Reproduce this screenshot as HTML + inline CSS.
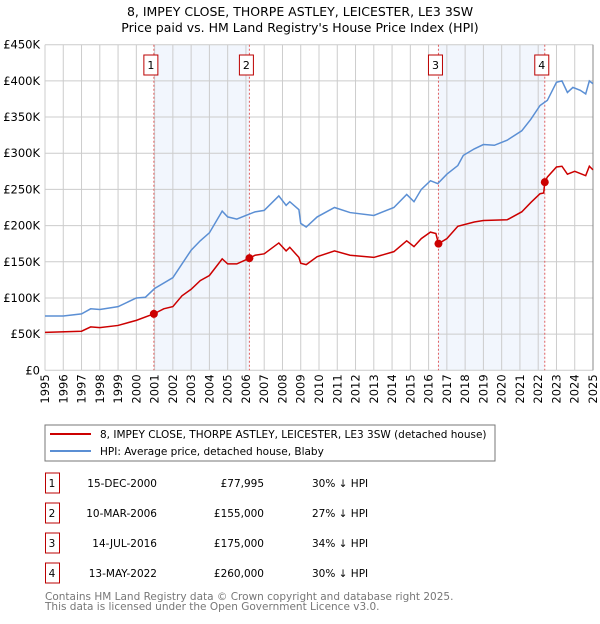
<!DOCTYPE html>
<html><head><meta charset="utf-8"><style>
body{margin:0;background:#fff;font-family:"DejaVu Sans","Liberation Sans",sans-serif;}
svg text{font-family:"DejaVu Sans","Liberation Sans",sans-serif;}
</style></head><body>
<svg id="chart" width="600" height="620" viewBox="0 0 600 620" xmlns="http://www.w3.org/2000/svg">
<text x="300" y="16" text-anchor="middle" font-size="12.5" fill="#000">8, IMPEY CLOSE, THORPE ASTLEY, LEICESTER, LE3 3SW</text>
<text x="300" y="32" text-anchor="middle" font-size="12.5" fill="#000">Price paid vs. HM Land Registry's House Price Index (HPI)</text>
<g id="plot"></g>
<g>
<rect x="45" y="425" width="450" height="36" fill="#fff" stroke="#777"/>
<line x1="50" y1="434" x2="91" y2="434" stroke="#cc0000" stroke-width="2"/>
<text x="100" y="438" font-size="10.5">8, IMPEY CLOSE, THORPE ASTLEY, LEICESTER, LE3 3SW (detached house)</text>
<line x1="50" y1="451" x2="91" y2="451" stroke="#5b8fd4" stroke-width="2"/>
<text x="100" y="455" font-size="10.5">HPI: Average price, detached house, Blaby</text>
</g>
<g id="table"></g>
<text x="45" y="600" font-size="10.5" fill="#777">Contains HM Land Registry data © Crown copyright and database right 2025.</text>
<text x="45" y="610" font-size="10.5" fill="#777">This data is licensed under the Open Government Licence v3.0.</text>
</svg>
<script>
const hpiYears=[1995,1996,1997,1997.5,1998,1999,2000,2000.5,2001,2002,2003,2003.5,2004,2004.7,2005,2005.5,2006,2006.5,2007,2007.8,2008.2,2008.4,2008.9,2009,2009.3,2009.9,2010.85,2011.7,2013,2014.1,2014.8,2015.2,2015.6,2016.1,2016.5,2017,2017.6,2017.9,2018.5,2019,2019.6,2020.3,2021.1,2021.6,2022.1,2022.5,2023,2023.3,2023.6,2023.9,2024.3,2024.6,2024.8,2025];
const hpiValues=[75,75,78,85,84,88,100,101,113,128,166,179,190,220,212,209,214,219,221,241,228,233,222,203,198,212,225,218,214,225,243,233,250,262,258,271,283,297,306,312,311,318,331,347,366,373,398,400,384,391,387,382,400,396];
const propYears=[1995,1997,1997.5,1998,1999,2000,2000.96,2001.5,2002,2002.5,2003,2003.5,2004,2004.7,2005,2005.5,2006.19,2006.5,2007,2007.8,2008.2,2008.4,2008.9,2009,2009.3,2009.9,2010.85,2011.7,2013,2014.1,2014.8,2015.2,2015.6,2016.1,2016.4,2016.54,2017,2017.6,2018.5,2019,2020.3,2021.1,2021.6,2022.1,2022.3,2022.36,2022.5,2023,2023.3,2023.6,2024,2024.6,2024.8,2025];
const propValues=[52.5,54,60,59,62,69,78,85,88,103,112,124,131,154,147,147,155,159,161,176,165,170,156,148,146,157,165,159,156,164,179,171,182,191,189,175,182,199,205,207,208,219,232,244,245,260,267,281,282,271,275,269,282,277];
const saleLabels=["1","2","3","4"];
const saleYears=[2000.96,2006.19,2016.54,2022.36];
const saleValues=[77.995,155,175,260];
const saleDates=["15-DEC-2000","10-MAR-2006","14-JUL-2016","13-MAY-2022"];
const salePrices=["£77,995","£155,000","£175,000","£260,000"];
const saleDiffs=["30% ↓ HPI","27% ↓ HPI","34% ↓ HPI","30% ↓ HPI"];
const yTicks=[0,50,100,150,200,250,300,350,400,450];
const yTickLabels=["£0","£50K","£100K","£150K","£200K","£250K","£300K","£350K","£400K","£450K"];
const xTicks=[1995,1996,1997,1998,1999,2000,2001,2002,2003,2004,2005,2006,2007,2008,2009,2010,2011,2012,2013,2014,2015,2016,2017,2018,2019,2020,2021,2022,2023,2024,2025];

const NS="http://www.w3.org/2000/svg";
const X0=45,X1=593,Y0=370.3,Y1=44.7;
const xs=y=>X0+(y-1995)/30*(X1-X0);
const ys=v=>Y0-v/450*(Y0-Y1);
const plot=document.getElementById('plot');
function mk(tag,attrs,parent){const e=document.createElementNS(NS,tag);for(const k in attrs)e.setAttribute(k,attrs[k]);(parent||plot).appendChild(e);return e;}
mk('rect',{x:X0,y:Y1,width:X1-X0,height:Y0-Y1,fill:'#fff'});
for(let i=0;i<saleYears.length;i+=2){
 const r=mk('rect',{x:xs(saleYears[i]),y:Y1,width:xs(saleYears[i+1])-xs(saleYears[i]),height:Y0-Y1,fill:'#f2f6fd'});
 
 
}
xTicks.forEach(t=>{
 const l=mk('line',{x1:xs(t),x2:xs(t),y1:Y1,y2:Y0,stroke:'#ccc','stroke-width':1});
 
 
 const tx=mk('text',{x:0,y:0,'font-size':11.5,'text-anchor':'end',transform:`translate(${xs(t)+4},${Y0+4}) rotate(-90)`});
 tx.textContent=t;
 
 
});
yTicks.forEach((t,i)=>{
 const l=mk('line',{x1:X0,x2:X1,y1:ys(t),y2:ys(t),stroke:'#ccc','stroke-width':1});
 
 
 const tx=mk('text',{x:X0-5,y:ys(t)+4,'font-size':11.5,'text-anchor':'end'});
 tx.textContent=yTickLabels[i];
 
 
});
mk('line',{x1:X1,x2:X1,y1:Y1,y2:Y0,stroke:'#888','stroke-width':1});
saleYears.forEach((s,i)=>{
 const l=mk('line',{x1:xs(s),x2:xs(s),y1:Y1,y2:Y0,stroke:'#e06060','stroke-width':1,'stroke-dasharray':'2,2'});
 
 
 const b=mk('rect',{x:xs(s)-10,y:55,width:14,height:20,fill:'#fff',stroke:'#bb0000'});
 
 
 const t=mk('text',{x:xs(s)-3,y:69,'font-size':11,'text-anchor':'middle'});
 t.textContent=saleLabels[i];
 
 
});
const hp=mk('polyline',{points:hpiYears.map((y,i)=>xs(y)+','+ys(hpiValues[i])).join(' '),fill:'none',stroke:'#5b8fd4','stroke-width':1.5});


const pp=mk('polyline',{points:propYears.map((y,i)=>xs(y)+','+ys(propValues[i])).join(' '),fill:'none',stroke:'#cc0000','stroke-width':1.5});


saleYears.forEach((s,i)=>{
 const c=mk('circle',{cx:xs(s),cy:ys(saleValues[i]),r:4,fill:'#cc0000'});
 
 
});
const tbl=document.getElementById('table');
saleLabels.forEach((lab,i)=>{
 const y=483+i*30;
 const b=mk('rect',{x:45.5,y:y-10,width:14,height:20,fill:'#fff',stroke:'#bb0000'},tbl);
 
 
 const cells=[[52,lab,'middle'],[157,saleDates[i],'end'],[264,salePrices[i],'end'],[312,saleDiffs[i],'start']];
 cells.forEach(c=>{
  const t=mk('text',{x:c[0],y:y+4,'font-size':10.5,'text-anchor':c[2]},tbl);
  t.textContent=c[1];
  
  
 });
});
</script>
</body></html>
